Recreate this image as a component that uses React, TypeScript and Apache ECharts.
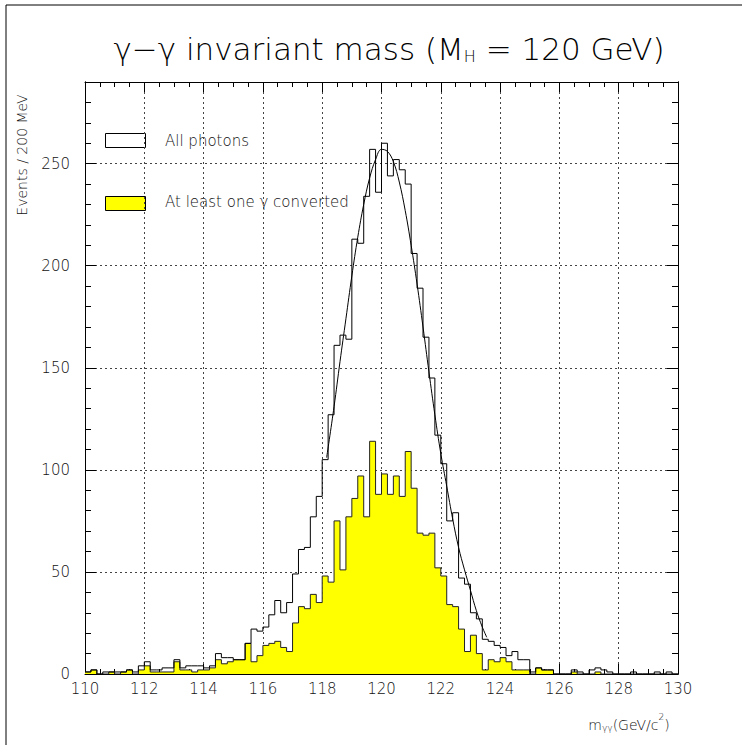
import React, { useEffect, useRef } from "react";
import * as echarts from "echarts";

// Histogram binning: 100 bins of 200 MeV from 110 to 130 GeV
const BIN_START = 110;
const BIN_WIDTH = 0.2;

// Events / 200 MeV, all photons (white histogram)
const allPhotons = [
  1, 2, 0, 1, 1, 1, 1, 2, 1, 4,
  6, 2, 2, 3, 3, 7, 3, 4, 4, 4,
  3, 4, 10, 8, 8, 7, 7, 15, 22, 21,
  23, 29, 36, 30, 35, 49, 61, 62, 77, 87,
  105, 127, 161, 166, 164, 213, 211, 234, 257, 236,
  260, 244, 252, 247, 240, 206, 189, 165, 145, 117,
  103, 75, 79, 47, 44, 30, 27, 17, 16, 14,
  13, 9, 11, 7, 7, 1, 3, 2, 2, 0,
  0, 0, 2, 1, 0, 2, 3, 2, 1, 0,
  0, 0, 1, 0, 0, 0, 1, 0, 1, 0,
];

// Events / 200 MeV, at least one photon converted (yellow histogram)
const converted = [
  1, 2, 0, 0, 1, 0, 1, 2, 0, 2,
  4, 1, 1, 1, 1, 6, 2, 2, 1, 2,
  2, 3, 7, 5, 6, 7, 7, 15, 6, 9,
  14, 15, 16, 13, 11, 25, 33, 32, 39, 35,
  48, 45, 75, 51, 77, 86, 97, 77, 114, 88,
  98, 88, 97, 87, 109, 91, 69, 68, 69, 52,
  48, 34, 33, 22, 11, 19, 10, 2, 7, 6,
  8, 6, 2, 2, 2, 0, 3, 2, 2, 0,
  0, 0, 1, 0, 0, 0, 1, 0, 0, 0,
  0, 0, 0, 0, 0, 0, 0, 0, 0, 0,
];

// Fitted curve
const fitX = [
  118.15, 118.4, 118.6, 118.8, 119.0, 119.2, 119.4, 119.6, 119.8, 120.0,
  120.2, 120.4, 120.6, 120.8, 121.0, 121.2, 121.4, 121.6, 121.8, 122.0,
  122.2, 122.4, 122.6, 122.8, 123.0, 123.2, 123.4, 123.55,
];
const fitY = [
  106, 131, 153, 174, 195, 214, 230, 243, 252, 257,
  256, 251, 241, 227, 210, 191, 170, 148, 127, 108,
  92, 76, 62, 51, 41, 31, 23, 18,
];

const xMin = 110;
const xMax = 130;
const xMajor = 2;
const yMin = 0;
const yMax = 290;
const yMajor = 50;
const yMinor = 10;

const title = "γ−γ invariant mass (M";
const titleSub = "H";
const titleEnd = " = 120 GeV)";
const yName = "Events / 200 MeV";
const legendAll = "All photons";
const legendConv = "At least one γ converted";

const FONT = "DejaVu Sans, Verdana, sans-serif";
const FW = 200;

function stepData(values: number[]): number[][] {
  const pts = values.map((v, i) => [+(BIN_START + i * BIN_WIDTH).toFixed(2), v]);
  pts.push([+(BIN_START + values.length * BIN_WIDTH).toFixed(2), values[values.length - 1]]);
  return pts;
}

export default function App() {
  const ref = useRef<HTMLDivElement>(null);

  useEffect(() => {
    if (!ref.current) return;
    const chart = echarts.init(ref.current, undefined, { renderer: "svg" });
    const axisLineStyle = { color: "#000", width: 1 };
    const gridLineStyle = { color: "#444", type: [2, 3] as any, width: 1 };

    const xCommon = (pos: string, labels: boolean) => ({
      type: "value",
      min: xMin,
      max: xMax,
      interval: xMajor,
      position: pos,
      axisLine: { show: true, onZero: false, lineStyle: axisLineStyle },
      axisTick: { show: true, inside: true, length: 10, lineStyle: axisLineStyle },
      minorTick: { show: true, splitNumber: 4, length: 5, lineStyle: axisLineStyle },
      axisLabel: labels
        ? { show: true, color: "#111", fontSize: 15, fontFamily: FONT, fontWeight: FW, margin: 7 }
        : { show: false },
      splitLine: { show: labels, lineStyle: gridLineStyle },
    });

    const yMajorAxis = (pos: string, labels: boolean) => ({
      type: "value",
      min: yMin,
      max: yMax,
      interval: yMajor,
      position: pos,
      axisLine: { show: true, onZero: false, lineStyle: axisLineStyle },
      axisTick: { show: true, inside: true, length: 11, lineStyle: axisLineStyle },
      axisLabel: labels
        ? {
            show: true,
            color: "#111",
            fontSize: 15,
            fontFamily: FONT,
            fontWeight: FW,
            margin: 15,
            showMaxLabel: false,
            formatter: (v: number) => (v % yMajor === 0 ? String(v) : ""),
          }
        : { show: false },
      splitLine: { show: labels, lineStyle: gridLineStyle },
    });

    const yMinorAxis = (pos: string) => ({
      type: "value",
      min: yMin,
      max: yMax,
      interval: yMinor,
      position: pos,
      axisLine: { show: true, onZero: false, lineStyle: axisLineStyle },
      axisTick: { show: true, inside: true, length: 6, lineStyle: axisLineStyle },
      axisLabel: { show: false },
      splitLine: { show: false },
    });

    chart.setOption({
      animation: false,
      backgroundColor: "#fff",
      grid: { left: 85, top: 82, right: 64, bottom: 71, containLabel: false, outerBoundsMode: "none" },
      xAxis: [xCommon("bottom", true), xCommon("top", false)],
      yAxis: [yMajorAxis("left", true), yMinorAxis("left"), yMajorAxis("right", false), yMinorAxis("right")],
      series: [
        {
          type: "line",
          name: legendConv,
          data: stepData(converted),
          step: "end",
          symbol: "none",
          lineStyle: { color: "#222", width: 1 },
          areaStyle: { color: "#ffff00", opacity: 1 },
          z: 2,
        },
        {
          type: "line",
          name: legendAll,
          data: stepData(allPhotons),
          step: "end",
          symbol: "none",
          lineStyle: { color: "#000", width: 1 },
          z: 3,
        },
        {
          type: "line",
          name: "fit",
          data: fitX.map((x, i) => [x, fitY[i]]),
          smooth: 0.4,
          symbol: "none",
          lineStyle: { color: "#000", width: 1 },
          z: 4,
        },
      ],
      graphic: [
        {
          type: "rect",
          shape: { x: 6, y: 5, width: 900, height: 900 },
          style: { fill: "none", stroke: "#000", lineWidth: 1 },
          silent: true,
        },
        {
          type: "text",
          x: 389,
          y: 46,
          style: {
            text: `{a|${title}}{s|${titleSub}}{a|${titleEnd}}`,
            textAlign: "center",
            textVerticalAlign: "middle",
            rich: {
              a: { fontSize: 31, fontFamily: FONT, fontWeight: FW, fill: "#000", lineHeight: 36, verticalAlign: "bottom" },
              s: { fontSize: 16, fontFamily: FONT, fontWeight: FW, fill: "#000", lineHeight: 15, verticalAlign: "bottom" },
            },
          },
        },
        {
          type: "text",
          x: 22,
          y: 155,
          rotation: Math.PI / 2,
          style: {
            text: yName,
            fontSize: 14,
            fontFamily: FONT,
            fontWeight: FW,
            fill: "#111",
            textAlign: "center",
            textVerticalAlign: "middle",
          },
        },
        {
          type: "text",
          x: 629,
          y: 722,
          style: {
            text: "{m|m}{s|γγ}{m|(GeV/c}{p|2}{m|)}",
            textAlign: "center",
            textVerticalAlign: "middle",
            rich: {
              m: { fontSize: 14, fontFamily: FONT, fontWeight: FW, fill: "#111", lineHeight: 20, verticalAlign: "bottom" },
              s: { fontSize: 9, fontFamily: FONT, fontWeight: FW, fill: "#111", lineHeight: 8, verticalAlign: "bottom" },
              p: { fontSize: 9, fontFamily: FONT, fontWeight: FW, fill: "#111", lineHeight: 10, verticalAlign: "top" },
            },
          },
        },
        {
          type: "rect",
          shape: { x: 105.5, y: 133.5, width: 40, height: 14 },
          style: { fill: "#fff", stroke: "#000", lineWidth: 1 },
        },
        {
          type: "text",
          x: 165,
          y: 141,
          style: { text: legendAll, fontSize: 15, fontFamily: FONT, fontWeight: FW, fill: "#111", textVerticalAlign: "middle" },
        },
        {
          type: "rect",
          shape: { x: 105.5, y: 196.5, width: 40, height: 14 },
          style: { fill: "#ffff00", stroke: "#000", lineWidth: 1 },
        },
        {
          type: "text",
          x: 165,
          y: 202,
          style: { text: legendConv, fontSize: 15, fontFamily: FONT, fontWeight: FW, fill: "#111", textVerticalAlign: "middle" },
        },
      ],
    });
    return () => chart.dispose();
  }, []);

  return (
    <div
      ref={ref}
      style={{ position: "absolute", left: 0, top: 0, width: 742, height: 745, background: "#fff" }}
    />
  );
}
